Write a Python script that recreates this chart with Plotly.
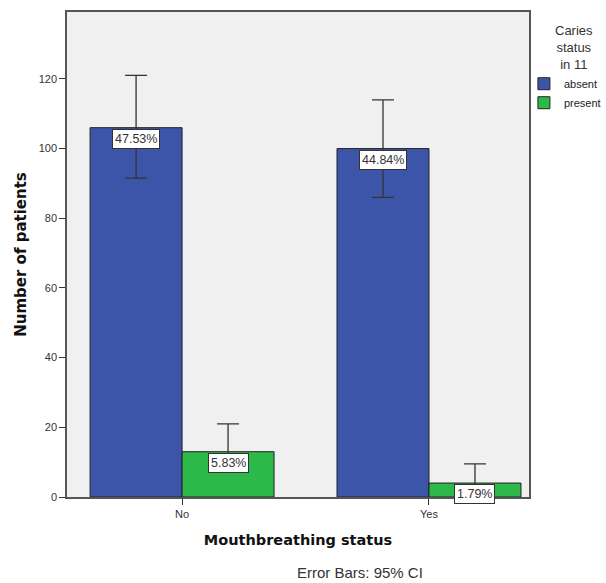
import plotly.graph_objects as go

categories = ["No", "Yes"]
absent_counts = [106, 100]
present_counts = [13, 4]
absent_ci_high = [121, 114]
absent_ci_low = [91.5, 86]
present_ci_high = [21, 9.5]
present_ci_low = [7.2, 1.5]
total_patients = 223
y_ticks = [0, 20, 40, 60, 80, 100, 120]

BLUE = "#3D55A8"
GREEN = "#2DB84A"
BARGAP = 0.255
bar_w = (1 - BARGAP) / 2
SANS = "Liberation Sans, Arial"
BOLD = "DejaVu Sans"

def err(vals, hi, lo):
    return (dict(type="data", symmetric=False,
                 array=[h - v for h, v in zip(hi, vals)],
                 arrayminus=[v - l for v, l in zip(vals, lo)],
                 color="#333333", thickness=1.3, width=11))

fig = go.Figure()
fig.add_trace(go.Bar(x=categories, y=absent_counts, name="absent",
                     marker=dict(color=BLUE, line=dict(color="#222222", width=1)),
                     error_y=err(absent_counts, absent_ci_high, absent_ci_low)))
fig.add_trace(go.Bar(x=categories, y=present_counts, name="present",
                     marker=dict(color=GREEN, line=dict(color="#222222", width=1)),
                     error_y=err(present_counts, present_ci_high, present_ci_low)))

# percentage labels
for i, c in enumerate(categories):
    for vals, off in ((absent_counts, -bar_w / 2), (present_counts, bar_w / 2)):
        v = vals[i]
        fig.add_annotation(x=i + off, y=v, xref="x", yref="y",
                           text=f"{100 * v / total_patients:.2f}%",
                           showarrow=False, yanchor="top", yshift=-1,
                           font=dict(family=SANS, size=12.5, color="#333333"),
                           bgcolor="white", bordercolor="#333333", borderwidth=1, borderpad=2)

# legend title
fig.add_annotation(x=1.0974, y=0.981, xref="paper", yref="paper",
                   text="Caries<br>status<br>in 11", showarrow=False,
                   xanchor="center", yanchor="top", align="center",
                   font=dict(family=SANS, size=13, color="#333333"))

fig.add_annotation(x=0.634, y=-0.155, xref="paper", yref="paper",
                   text="Error Bars: 95% CI", showarrow=False,
                   xanchor="center", yanchor="middle",
                   font=dict(family=SANS, size=15, color="#333333"))

fig.update_layout(
    width=606, height=583,
    margin=dict(l=67, r=77, t=12, b=86, autoexpand=False),
    paper_bgcolor="white", plot_bgcolor="#F0F0F0",
    barmode="group", bargap=BARGAP, bargroupgap=0,
    font=dict(family=SANS, size=11, color="#333333"),
    showlegend=True,
    legend=dict(x=0.989, xanchor="left", y=0.882, yanchor="top",
                font=dict(family=SANS, size=11, color="#222222"),
                itemwidth=30, tracegroupgap=0,
                bgcolor="rgba(0,0,0,0)"),
    xaxis=dict(type="category", range=[-0.466, 1.405],
               showline=True, linecolor="#555555", linewidth=1.5, mirror=True,
               ticks="outside", ticklen=6, tickcolor="#333333",
               showgrid=False, zeroline=False,
               title=dict(text="<b>Mouthbreathing status</b>", standoff=16,
                          font=dict(family=BOLD, size=14.5, color="#111111"))),
    yaxis=dict(range=[0, 139.2], tickvals=y_ticks,
               showline=True, linecolor="#555555", linewidth=1.5, mirror=True,
               ticks="outside", ticklen=6, tickcolor="#333333",
               showgrid=False, zeroline=False,
               title=dict(text="<b>Number of patients</b>", standoff=8,
                          font=dict(family=BOLD, size=15, color="#111111"))),
)

fig.write_html("out.html")
